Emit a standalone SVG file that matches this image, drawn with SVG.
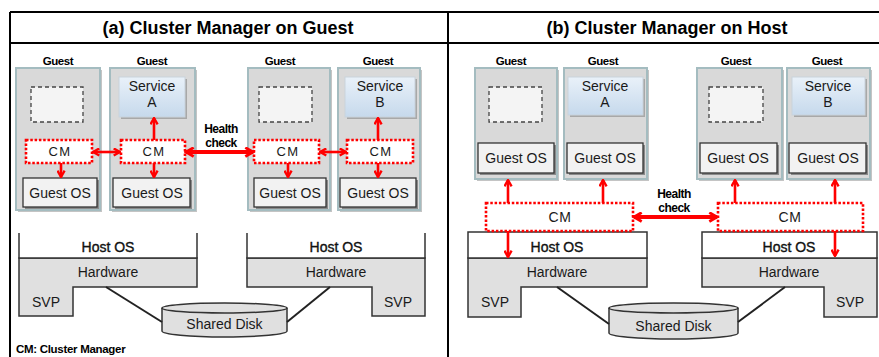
<svg xmlns="http://www.w3.org/2000/svg" width="879" height="357" viewBox="0 0 879 357">
  <defs>
    <linearGradient id="svcFill" x1="0" y1="0" x2="0" y2="1">
      <stop offset="0" stop-color="#e9f1f9"/>
      <stop offset="1" stop-color="#c6d9ec"/>
    </linearGradient>
    <marker id="head" viewBox="0 0 10 10" refX="8.5" refY="5" markerWidth="9" markerHeight="9" markerUnits="userSpaceOnUse" orient="auto-start-reverse">
      <path d="M1.5,1 L8.5,5 L1.5,9" fill="none" stroke="#ff0000" stroke-width="2.6" stroke-linejoin="miter"/>
    </marker>
    <marker id="headBig" viewBox="0 0 10 10" refX="8.5" refY="5" markerWidth="11" markerHeight="11" markerUnits="userSpaceOnUse" orient="auto-start-reverse">
      <path d="M1.5,1 L8.5,5 L1.5,9" fill="none" stroke="#ff0000" stroke-width="2.6"/>
    </marker>
  </defs>
  <style>
    text { font-family: "Liberation Sans", Arial, sans-serif; fill: #1a1a1a; text-anchor: middle; }
    .title { font-size: 18px; font-weight: bold; fill: #000; }
    .glabel { font-size: 11.5px; font-weight: bold; fill: #000; letter-spacing: -0.4px; }
    .t14 { font-size: 14px; }
    .hos { font-size: 14px; fill: #111; stroke: #111; stroke-width: 0.35px; }
    .cm { font-size: 13px; letter-spacing: 1.5px; }
    .cmr { font-size: 14px; letter-spacing: 0.5px; }
    .hc { font-size: 12px; font-weight: bold; fill: #000; letter-spacing: -0.5px; }
    .note { font-size: 11.5px; font-weight: bold; fill: #000; text-anchor: start; letter-spacing: -0.3px; }
    .frame { stroke: #000; stroke-width: 2; fill: none; }
    .guest { fill: #d9d9d9; stroke: #a4bcc0; stroke-width: 2; }
    .gshadow { fill: #c4c4c4; }
    .gos { fill: #f2f2f2; stroke: #333; stroke-width: 1.3; }
    .osshadow { fill: #8a8a8a; }
    .empty { fill: #f4f4f4; stroke: #444; stroke-width: 1.3; stroke-dasharray: 4 3; }
    .svc { fill: url(#svcFill); stroke: #c9d3dc; stroke-width: 1; }
    .svcshadow { fill: #a8a8a8; }
    .cmbox { fill: #fff; stroke: #ff0000; stroke-width: 2.6; stroke-dasharray: 2.5 1.8; }
    .hw { fill: #e0e0e0; stroke: #333; stroke-width: 1.5; }
    .hostos { fill: #fff; stroke: #333; stroke-width: 1.5; }
    .edge { stroke: #ff0000; stroke-width: 2.6; fill: none; marker-end: url(#head); }
    .edge2 { stroke: #ff0000; stroke-width: 2.6; fill: none; marker-start: url(#head); marker-end: url(#head); }
    .hcheck { stroke: #ff0000; stroke-width: 4; fill: none; marker-start: url(#headBig); marker-end: url(#headBig); }
    .wire { stroke: #222; stroke-width: 2; fill: none; }
  </style>

  <!-- frame and titles -->
  <g id="frame">
    <rect x="0" y="0" width="879" height="357" fill="#fff"/>
    <path class="frame" d="M10,12 H879 M10,43 H879 M10,12 V357 M448,12 V357"/>
    <text class="title" x="228" y="34">(a) Cluster Manager on Guest</text>
    <text class="title" x="667" y="34">(b) Cluster Manager on Host</text>
  </g>

  <!-- ===== (a) cluster manager on guest ===== -->
  <g id="a-guest1">
    <text class="glabel" x="58" y="65">Guest</text>
    <rect class="gshadow" x="18" y="70" width="84" height="142"/>
    <rect class="guest" x="16" y="68" width="84" height="142"/>
    <rect class="empty" x="31" y="87" width="52" height="35"/>
  </g>
  <g id="a-guest2">
    <text class="glabel" x="152" y="65">Guest</text>
    <rect class="gshadow" x="112" y="70" width="85" height="142"/>
    <rect class="guest" x="110" y="68" width="85" height="142"/>
  </g>
  <g id="a-guest3">
    <text class="glabel" x="280" y="65">Guest</text>
    <rect class="gshadow" x="250" y="70" width="82" height="142"/>
    <rect class="guest" x="248" y="68" width="82" height="142"/>
    <rect class="empty" x="259" y="87" width="53" height="35"/>
  </g>
  <g id="a-guest4">
    <text class="glabel" x="378" y="65">Guest</text>
    <rect class="gshadow" x="340" y="70" width="82" height="142"/>
    <rect class="guest" x="338" y="68" width="82" height="142"/>
  </g>

  <g id="a-serviceA">
    <rect class="svcshadow" x="121" y="79" width="66" height="40"/>
    <rect class="svc" x="119" y="77" width="66" height="40"/>
    <text class="t14" x="152" y="91">Service</text>
    <text class="t14" x="152" y="107">A</text>
  </g>
  <g id="a-serviceB">
    <rect class="svcshadow" x="347" y="79" width="70" height="40"/>
    <rect class="svc" x="345" y="77" width="70" height="40"/>
    <text class="t14" x="380" y="91">Service</text>
    <text class="t14" x="380" y="107">B</text>
  </g>

  <g id="a-cm1"><rect class="cmbox" x="26" y="140" width="66" height="23"/><text class="cm" x="60" y="156">CM</text></g>
  <g id="a-cm2"><rect class="cmbox" x="121" y="140" width="64" height="23"/><text class="cm" x="154" y="156">CM</text></g>
  <g id="a-cm3"><rect class="cmbox" x="254" y="140" width="65" height="23"/><text class="cm" x="288" y="156">CM</text></g>
  <g id="a-cm4"><rect class="cmbox" x="347" y="140" width="66" height="23"/><text class="cm" x="381" y="156">CM</text></g>

  <g id="a-os1"><rect class="osshadow" x="25" y="180" width="74" height="29"/><rect class="gos" x="23" y="178" width="74" height="29"/><text class="t14" x="60" y="198">Guest OS</text></g>
  <g id="a-os2"><rect class="osshadow" x="115" y="180" width="77" height="29"/><rect class="gos" x="113" y="178" width="77" height="29"/><text class="t14" x="152" y="198">Guest OS</text></g>
  <g id="a-os3"><rect class="osshadow" x="256" y="180" width="72" height="29"/><rect class="gos" x="254" y="178" width="72" height="29"/><text class="t14" x="290" y="198">Guest OS</text></g>
  <g id="a-os4"><rect class="osshadow" x="342" y="180" width="76" height="29"/><rect class="gos" x="340" y="178" width="76" height="29"/><text class="t14" x="378" y="198">Guest OS</text></g>

  <g id="a-host1">
    <path class="hw" d="M19,258 H197 V287 H73 V316 H19 Z"/>
    <path class="hostos" d="M19,233 V258 H197 V233" />
    <text class="hos" x="108" y="252">Host OS</text>
    <text class="t14" x="108" y="277">Hardware</text>
    <text class="t14" x="46" y="307">SVP</text>
  </g>
  <g id="a-host2">
    <path class="hw" d="M247,258 H425 V316 H372 V287 H247 Z"/>
    <path class="hostos" d="M247,233 V258 H425 V233"/>
    <text class="hos" x="336" y="252">Host OS</text>
    <text class="t14" x="336" y="277">Hardware</text>
    <text class="t14" x="398" y="307">SVP</text>
  </g>
  <g id="a-disk">
    <path class="hw" d="M162,308 V331 A62.5,6 0 0 0 287,331 V308"/>
    <ellipse class="hw" cx="224.5" cy="308" rx="62.5" ry="5"/>
    <text class="t14" x="224.5" y="329">Shared Disk</text>
  </g>

  <text class="note" x="16" y="353">CM: Cluster Manager</text>

  <!-- ===== (b) cluster manager on host ===== -->
  <g id="b-guest1">
    <text class="glabel" x="511" y="65">Guest</text>
    <rect class="gshadow" x="477" y="70" width="82" height="111"/>
    <rect class="guest" x="475" y="68" width="82" height="111"/>
    <rect class="empty" x="489" y="87" width="53" height="35"/>
    <rect class="osshadow" x="480" y="145" width="76" height="30"/>
    <rect class="gos" x="478" y="143" width="76" height="30"/>
    <text class="t14" x="516" y="163">Guest OS</text>
  </g>
  <g id="b-guest2">
    <text class="glabel" x="603" y="65">Guest</text>
    <rect class="gshadow" x="566" y="70" width="83" height="111"/>
    <rect class="guest" x="564" y="68" width="83" height="111"/>
    <rect class="svcshadow" x="570" y="79" width="75" height="38"/>
    <rect class="svc" x="568" y="77" width="75" height="38"/>
    <text class="t14" x="605" y="91">Service</text>
    <text class="t14" x="605" y="107">A</text>
    <rect class="osshadow" x="569" y="145" width="76" height="30"/>
    <rect class="gos" x="567" y="143" width="76" height="30"/>
    <text class="t14" x="605" y="163">Guest OS</text>
  </g>
  <g id="b-guest3">
    <text class="glabel" x="736" y="65">Guest</text>
    <rect class="gshadow" x="699" y="70" width="85" height="111"/>
    <rect class="guest" x="697" y="68" width="85" height="111"/>
    <rect class="empty" x="709" y="87" width="54" height="35"/>
    <rect class="osshadow" x="702" y="145" width="77" height="30"/>
    <rect class="gos" x="700" y="143" width="77" height="30"/>
    <text class="t14" x="738" y="163">Guest OS</text>
  </g>
  <g id="b-guest4">
    <text class="glabel" x="827" y="65">Guest</text>
    <rect class="gshadow" x="789" y="70" width="83" height="111"/>
    <rect class="guest" x="787" y="68" width="83" height="111"/>
    <rect class="svcshadow" x="794" y="79" width="73" height="38"/>
    <rect class="svc" x="792" y="77" width="73" height="38"/>
    <text class="t14" x="828" y="91">Service</text>
    <text class="t14" x="828" y="107">B</text>
    <rect class="osshadow" x="791" y="145" width="77" height="30"/>
    <rect class="gos" x="789" y="143" width="77" height="30"/>
    <text class="t14" x="828" y="163">Guest OS</text>
  </g>

  <g id="b-host1">
    <path class="hw" d="M468,258 H647 V287 H521 V317 H468 Z"/>
    <rect class="hostos" x="468" y="232" width="179" height="26"/>
    <text class="hos" x="557" y="252">Host OS</text>
    <text class="t14" x="557" y="277">Hardware</text>
    <text class="t14" x="495" y="307">SVP</text>
  </g>
  <g id="b-host2">
    <path class="hw" d="M702,258 H877 V317 H824 V287 H702 Z"/>
    <rect class="hostos" x="702" y="232" width="175" height="26"/>
    <text class="hos" x="789" y="252">Host OS</text>
    <text class="t14" x="789" y="277">Hardware</text>
    <text class="t14" x="850" y="307">SVP</text>
  </g>
  <g id="b-disk">
    <path class="hw" d="M609,308 V333 A64.5,6 0 0 0 738,333 V308"/>
    <ellipse class="hw" cx="673.5" cy="308" rx="64.5" ry="5"/>
    <text class="t14" x="673.5" y="331">Shared Disk</text>
  </g>

  <g id="b-cm1"><rect class="cmbox" x="486" y="203" width="147" height="28"/><text class="cmr" x="560" y="222">CM</text></g>
  <g id="b-cm2"><rect class="cmbox" x="718" y="203" width="145" height="28"/><text class="cmr" x="790" y="222">CM</text></g>

  <!-- connectors -->
  <g id="connectors">
    <!-- (a) CM to service / guest OS -->
    <line class="edge" x1="61" y1="163" x2="61" y2="177"/>
    <line class="edge" x1="154" y1="140" x2="154" y2="118"/>
    <line class="edge" x1="154" y1="163" x2="154" y2="177"/>
    <line class="edge" x1="288" y1="163" x2="288" y2="177"/>
    <line class="edge" x1="378" y1="140" x2="378" y2="118"/>
    <line class="edge" x1="378" y1="163" x2="378" y2="177"/>
    <line class="edge2" x1="93" y1="152" x2="120" y2="152"/>
    <line class="hcheck" x1="186" y1="152" x2="253" y2="152"/>
    <line class="edge2" x1="320" y1="152" x2="346" y2="152"/>
    <text class="hc" x="221" y="133">Health</text>
    <text class="hc" x="221" y="147">check</text>

    <!-- (b) host CM to guests and hardware -->
    <line class="edge" x1="508" y1="203" x2="508" y2="180"/>
    <line class="edge" x1="603" y1="203" x2="603" y2="180"/>
    <line class="edge" x1="735" y1="203" x2="735" y2="180"/>
    <line class="edge" x1="835" y1="203" x2="835" y2="180"/>
    <line class="edge" x1="508" y1="231" x2="508" y2="257"/>
    <line class="edge" x1="835" y1="231" x2="835" y2="256"/>
    <line class="hcheck" x1="634" y1="217" x2="717" y2="217"/>
    <text class="hc" x="674" y="198">Health</text>
    <text class="hc" x="674" y="212">check</text>

    <!-- shared disk cabling -->
    <line class="wire" x1="106" y1="287" x2="162" y2="322"/>
    <line class="wire" x1="287" y1="322" x2="330" y2="287"/>
    <line class="wire" x1="557" y1="287" x2="609" y2="324"/>
    <line class="wire" x1="738" y1="322" x2="785" y2="287"/>
  </g>
</svg>
